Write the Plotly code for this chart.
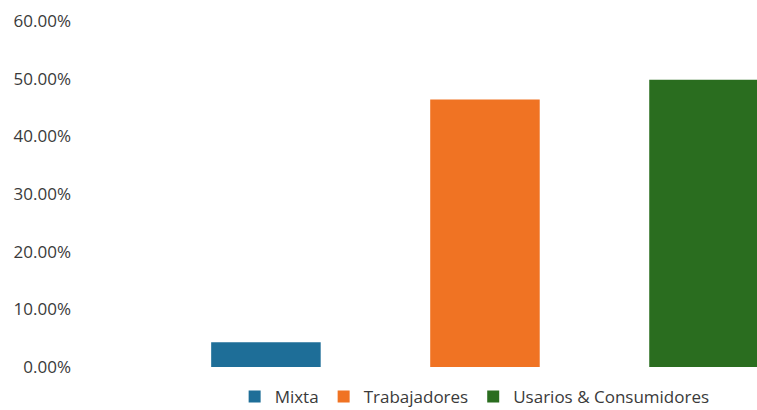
import plotly.graph_objects as go

# Share of organisations by type
series_names = ["Mixta", "Trabajadores", "Usarios & Consumidores"]
shares = [0.043, 0.464, 0.498]
colors = ["#1E6E98", "#F07323", "#2A6D1F"]

y_ticks = [0, 0.1, 0.2, 0.3, 0.4, 0.5, 0.6]

fig = go.Figure()
for name, val, col in zip(series_names, shares, colors):
    fig.add_trace(go.Bar(
        x=[name], y=[val], name=name,
        marker=dict(color=col, line=dict(width=0)),
        width=0.5,
    ))

font_family = "Open Sans, Arial, sans-serif"
text_color = "#3A3A3A"

fig.update_layout(
    width=757, height=410,
    margin=dict(l=78, r=0, t=21, b=43, autoexpand=False),
    paper_bgcolor="white", plot_bgcolor="white",
    barmode="overlay",
    font=dict(family=font_family, size=17, color=text_color),
    showlegend=True,
    legend=dict(
        orientation="h",
        xref="container", yref="container",
        x=0.627, xanchor="center",
        y=0.032, yanchor="middle",
        font=dict(size=17, color=text_color),
        itemwidth=30,
        traceorder="normal",
        bgcolor="rgba(0,0,0,0)",
    ),
    xaxis=dict(
        type="category",
        range=[-0.858, 2.242],
        showticklabels=False, showgrid=False, zeroline=False, showline=False,
    ),
    yaxis=dict(
        range=[0, 0.6],
        tickvals=y_ticks,
        tickformat=".2%",
        showgrid=False, zeroline=False, showline=False,
        ticks="", ticklabelstandoff=6,
    ),
)

fig.write_html("out.html")
